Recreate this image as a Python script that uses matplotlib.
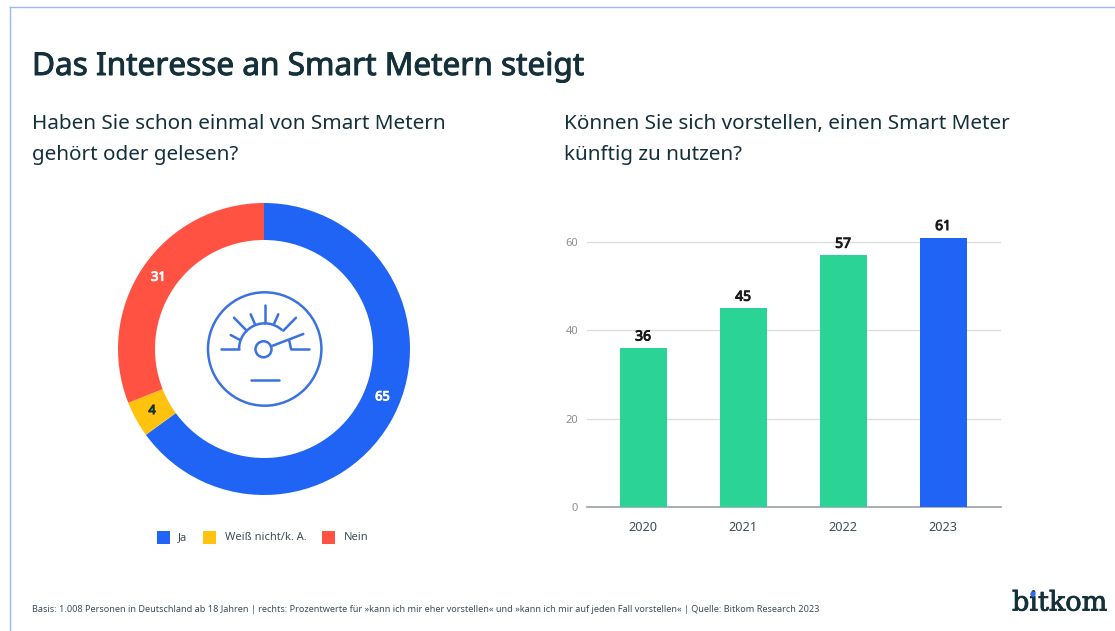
import numpy as np
import matplotlib
matplotlib.use("Agg")
import matplotlib.pyplot as plt
import matplotlib.patheffects as pe
from matplotlib.patches import Circle, Rectangle, Arc

plt.rcParams['font.family'] = ['Noto Sans', 'DejaVu Sans']

W, H = 1115, 631

title = "Das Interesse an Smart Metern steigt"
left_title = "Haben Sie schon einmal von Smart Metern\ngehört oder gelesen?"
right_title = "Können Sie sich vorstellen, einen Smart Meter\nkünftig zu nutzen?"
source = ("Basis: 1.008 Personen in Deutschland ab 18 Jahren | rechts: Prozentwerte für "
          "»kann ich mir eher vorstellen« und »kann ich mir auf jeden Fall vorstellen« | "
          "Quelle: Bitkom Research 2023")

pie_labels = ["Ja", "Weiß nicht/k. A.", "Nein"]
pie_values = [65, 4, 31]
pie_colors = ["#1f64f5", "#ffc20e", "#ff5242"]

years = ["2020", "2021", "2022", "2023"]
bar_values = [36, 45, 57, 61]
bar_colors = ["#2bd396", "#2bd396", "#2bd396", "#1f64f5"]
y_ticks = [0, 20, 40, 60]

DARK = "#14303a"
ICON = "#3a72e0"


def thick(w, col):
    # the installed Noto Sans only has one weight here, so fatten it by a stroke
    return [pe.withStroke(linewidth=w, foreground=col)]


fig = plt.figure(figsize=(W / 100, H / 100), dpi=100, facecolor="white")

# overlay in pixel coordinates for text, frame and icon
bg = fig.add_axes([0, 0, 1, 1])
bg.set_xlim(0, W)
bg.set_ylim(H, 0)
bg.axis("off")

bg.plot([10, 10], [7, H], color="#9db8ee", lw=1)
bg.plot([10, W], [7, 7], color="#9db8ee", lw=1)

bg.text(32, 67, title, fontsize=22.7, color=DARK, va="center", path_effects=thick(0.7, DARK))
bg.text(32, 139.5, left_title, fontsize=14.9, color=DARK, va="center", linespacing=1.68)
bg.text(564, 139.5, right_title, fontsize=14.9, color=DARK, va="center", linespacing=1.68)
bg.text(32, 609, source, fontsize=6.58, color="#3c4f58", va="center")

# logo
bg.text(1012, 603, "bitkom", fontsize=19.5, family="DejaVu Serif", color=DARK, va="center",
        path_effects=thick(0.6, DARK))
bg.add_patch(Circle((1033, 594), 2, color="#2f6cf0", zorder=5))

# legend
legend_x = [164, 210, 329]
legend_gap = [14, 15, 15]
for x, gap, lab, col in zip(legend_x, legend_gap, pie_labels, pie_colors):
    bg.add_patch(Rectangle((x - 7, 531), 13, 13, color=col, lw=0))
    bg.text(x + gap, 537.5, lab, fontsize=8, color="#3c4f58", va="center")

# donut
cx, cy, r_out = 264, 349, 146
pie_ax = fig.add_axes([(cx - r_out) / W, 1 - (cy + r_out) / H, 2 * r_out / W, 2 * r_out / H])
wedges, _ = pie_ax.pie(pie_values, colors=pie_colors, startangle=90, counterclock=False,
                       radius=1, wedgeprops=dict(width=37 / 146, edgecolor="none"))
pie_ax.set_xlim(-1, 1)
pie_ax.set_ylim(-1, 1)
label_shift = [5, 0, 0]
cum = 0
for v, shift in zip(pie_values, label_shift):
    ang = np.pi / 2 - 2 * np.pi * (cum + v / 2) / sum(pie_values) + np.radians(shift)
    cum += v
    col = DARK if v == 4 else "white"
    pie_ax.text(0.875 * np.cos(ang), 0.875 * np.sin(ang), str(v), ha="center", va="center",
                fontsize=9.2, color=col, path_effects=thick(0.7, col))

# gauge icon
ic = dict(color=ICON, lw=1.8, solid_capstyle="round", solid_joinstyle="round", zorder=6)
bg.add_patch(Circle((264.7, 349), 56.7, fill=False, ec=ICON, lw=1.8, zorder=6))
bg.add_patch(Circle((263.5, 349.3), 8, fill=False, ec=ICON, lw=1.8, zorder=6))
bg.add_patch(Arc((264.7, 349), 51.3, 51.3, theta1=180, theta2=313, ec=ICON, lw=1.8, zorder=6))
for (x0, y0), (x1, y1) in [((220.7, 349), (239.3, 349)), ((264.7, 305), (264.7, 323.3)),
                           ((250.7, 314.3), (255, 324.3)), ((234, 317.7), (246.7, 330.7)),
                           ((230.7, 335), (240, 340)), ((278.3, 314.3), (274.3, 323.3)),
                           ((296, 317.7), (283.3, 330.7)), ((272.7, 345.7), (303.3, 334)),
                           ((289.3, 340.7), (291, 349)), ((291, 349), (309, 349)),
                           ((250.7, 380), (279.3, 380))]:
    bg.plot([x0, x1], [y0, y1], **ic)

# bars
x0_px, x1_px, y0_px, y_top_px = 587, 1001, 507, 220
ax = fig.add_axes([x0_px / W, 1 - y0_px / H, (x1_px - x0_px) / W, (y0_px - y_top_px) / H])
x = np.arange(len(years))
ax.bar(x, bar_values, width=0.47, color=bar_colors, zorder=3)
ax.set_xlim(-0.56, 3.58)
ax.set_ylim(0, (y0_px - y_top_px) / (265 / 60))
ax.set_xticks(x, years)
ax.set_yticks(y_ticks)
ax.tick_params(length=0)
ax.tick_params(axis="x", pad=10, labelsize=9.2, labelcolor="#3c4f58")
ax.tick_params(axis="y", pad=6.5, labelsize=8, labelcolor="#8a8f93")
ax.grid(axis="y", color="#dcdcdc", lw=0.9, zorder=0)
for s in ["top", "left", "right"]:
    ax.spines[s].set_visible(False)
ax.spines["bottom"].set_color("#9aa1a5")
ax.spines["bottom"].set_linewidth(1.2)
ax.patch.set_alpha(0)
for xi, v in zip(x, bar_values):
    ax.text(xi, v + 0.8, str(v), ha="center", va="bottom", fontsize=10,
            color="#1a1a1a", path_effects=thick(0.7, "#1a1a1a"))

fig.savefig("out.png", dpi=100)
